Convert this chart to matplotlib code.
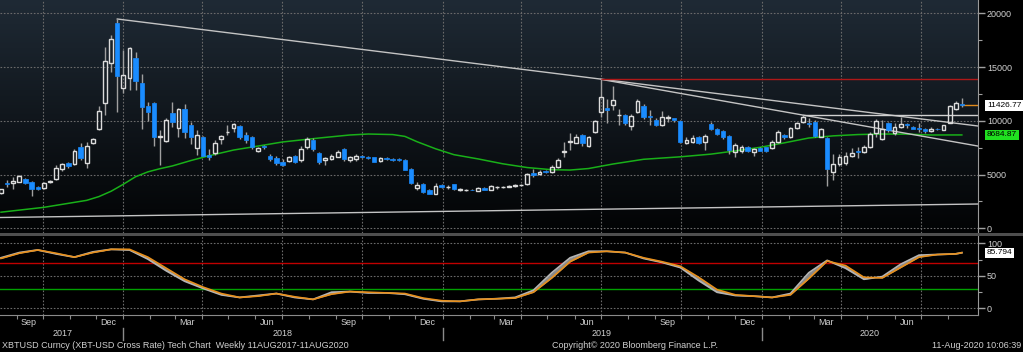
import numpy as np
import pandas as pd
import matplotlib
matplotlib.use('Agg')
import matplotlib.pyplot as plt
import matplotlib.dates as mdates
import matplotlib.transforms as mtrans
from matplotlib.lines import Line2D
from matplotlib.patches import Rectangle

plt.rcParams['font.family'] = ['Liberation Sans', 'DejaVu Sans']

# weekly candles, XBTUSD, Aug 2017 - Aug 2020
weeks = pd.date_range('2017-08-14', periods=158, freq='7D')

opens = [3280, 4180, 4190, 4340, 4590, 4300, 3800, 3720, 4300, 4560,
         5520, 6050, 5980, 7530, 6050, 7960, 9270, 11630, 15400, 19070,
         13020, 13950, 15810, 13490, 11400, 11630, 8500, 8160, 10750, 9300,
         11090, 9610, 7440, 8520, 6820, 6980, 8280, 8950, 9300, 9510,
         8650, 8520, 7220, 7650, 6750, 6540, 6200, 6290, 6750, 6350,
         7530, 8210, 7030, 6350, 6420, 6660, 7350, 6350, 6470, 6720,
         6600, 6600, 6290, 6510, 6420, 6450, 6350, 5520, 3720, 4120,
         3560, 3160, 4000, 3830, 4120, 3560, 3540, 3600, 3500, 3720,
         3560, 3800, 3820, 3880, 3940, 3990, 4090, 5120, 5080, 5300,
         5210, 5670, 7080, 8050, 7960, 8710, 7650, 8990, 10850, 11160,
         11440, 10500, 10540, 9510, 10850, 11380, 10450, 10070, 9610, 10250,
         10230, 9980, 7960, 8060, 8460, 8060, 9700, 9210, 9040, 8590,
         7130, 7220, 7530, 7130, 7440, 7530, 7440, 8060, 8680, 8520,
         9300, 9920, 9820, 9920, 8520, 8370, 5270, 5980, 6050, 6750,
         7220, 7130, 7590, 8840, 8310, 9820, 8900, 9450, 9700, 9390,
         9330, 9270, 9050, 9260, 9140, 9820, 11100, 11560]
highs = [3700, 4490, 4800, 4980, 4700, 4400, 3900, 4300, 4450, 5890,
         6100, 6200, 7400, 7900, 8060, 8370, 11380, 16900, 18000, 19470,
         16590, 16900, 16400, 14350, 11720, 11720, 9150, 10230, 11780, 11160,
         11600, 9900, 9100, 8600, 7400, 8260, 8680, 9650, 9800, 9610,
         8990, 8580, 7550, 7750, 6940, 6730, 6420, 6750, 6850, 7650,
         8500, 8400, 7130, 6650, 6900, 7300, 7450, 6700, 6880, 6800,
         6700, 6650, 6630, 6600, 6500, 6550, 6450, 5600, 4300, 4250,
         3620, 4200, 4120, 4000, 4150, 3720, 3620, 3650, 3800, 3800,
         4050, 3950, 3950, 4000, 4100, 4150, 5120, 5520, 5400, 5450,
         5900, 6560, 8030, 8880, 8770, 8780, 8580, 10080, 13860, 12000,
         13240, 11100, 10630, 10630, 12000, 11600, 11000, 10250, 10910, 10540,
         10300, 10070, 8500, 8700, 8550, 8800, 9900, 9300, 9150, 8680,
         7900, 7750, 7650, 7500, 7600, 7600, 8200, 9100, 8800, 9400,
         9900, 10500, 10230, 10070, 9300, 8450, 6910, 6910, 7130, 7440,
         7530, 7750, 8950, 10140, 10070, 9920, 9770, 10380, 9820, 9550,
         9800, 9350, 9450, 9350, 9650, 11470, 11870, 12090]
lows = [3200, 3870, 3630, 4300, 4150, 3000, 3550, 3650, 4200, 4500,
        5300, 5600, 5900, 6400, 5640, 7870, 9150, 10540, 14570, 10850,
        12620, 12900, 12870, 9220, 9980, 7700, 5890, 8060, 9450, 8520,
        8400, 7800, 6800, 6700, 6350, 6820, 7860, 8680, 8990, 8280,
        7960, 7340, 7130, 7340, 6240, 5890, 5800, 6200, 6050, 6200,
        7340, 7230, 5990, 5900, 6350, 6600, 6280, 6200, 6280, 6500,
        6450, 6150, 6200, 6400, 6300, 6250, 5400, 4100, 3600, 3300,
        3150, 3150, 3750, 3700, 3550, 3500, 3480, 3520, 3450, 3550,
        3520, 3700, 3750, 3800, 3880, 3950, 4060, 4810, 4960, 5150,
        5120, 5580, 6630, 7320, 7900, 7650, 7560, 8900, 10390, 9770,
        11000, 9600, 9580, 9140, 10700, 10200, 9610, 9520, 9520, 9920,
        9900, 7900, 7800, 7900, 7800, 7300, 9100, 8650, 8300, 6910,
        6600, 6980, 7100, 6700, 7150, 7100, 7350, 7950, 8300, 8400,
        9200, 9800, 9450, 8520, 8450, 3930, 4490, 5800, 5890, 6660,
        6510, 6980, 7500, 8460, 8210, 8990, 8680, 9300, 9300, 9200,
        9000, 8900, 8950, 9150, 9100, 9770, 11000, 11310]
closes = [3650, 4100, 4400, 4900, 4250, 3650, 3650, 4190, 4380, 5580,
          5980, 5830, 7200, 6550, 7700, 8280, 10880, 15590, 17580, 14200,
          14260, 16740, 13700, 11310, 10850, 8520, 8600, 10070, 9890, 11060,
          8990, 8520, 8680, 6750, 6660, 7960, 8590, 9000, 9670, 8460,
          8210, 7530, 7440, 7530, 6450, 6050, 5890, 6600, 6200, 7350,
          8280, 7350, 6140, 6570, 6730, 7100, 6420, 6640, 6750, 6600,
          6510, 6200, 6510, 6420, 6330, 6350, 5420, 4240, 4030, 3400,
          3190, 3960, 3870, 3870, 3630, 3680, 3570, 3540, 3720, 3580,
          3960, 3870, 3880, 3940, 4030, 4070, 5020, 5000, 5270, 5200,
          5740, 6350, 7180, 8150, 8520, 7900, 8460, 9980, 12240, 11000,
          11930, 10580, 9770, 10450, 11810, 10390, 10330, 9610, 10320, 10320,
          10070, 8060, 8210, 8370, 7900, 8590, 9210, 8770, 8460, 7290,
          7750, 7530, 7220, 7350, 7220, 7220, 8060, 8990, 8460, 9300,
          9770, 10390, 9700, 8590, 9210, 5490, 5980, 6660, 6730, 6980,
          7100, 7530, 8770, 10010, 9240, 9140, 9390, 9700, 9640, 9240,
          9270, 9080, 9240, 9200, 9580, 11380, 11630, 11426.77]

# moving average (green), read at some weeks
ma_idx = [0, 7, 14, 16, 18, 20, 22, 24, 26, 28, 31, 34, 38, 42, 46, 52, 57, 60,
          64, 66, 68, 71, 74, 78, 82, 86, 90, 93, 96, 100, 105, 111, 116, 120,
          124, 128, 132, 136, 140, 144, 148, 152, 157]
ma_val = [1500, 1950, 2600, 2950, 3450, 4100, 4800, 5250, 5550, 5800, 6300, 6750,
          7280, 7650, 8030, 8400, 8680, 8770, 8720, 8550, 8050, 7400, 6850, 6450,
          6000, 5650, 5450, 5420, 5560, 5980, 6420, 6650, 6900, 7200, 7530, 7950,
          8400, 8600, 8720, 8770, 8760, 8680, 8684.87]

# oscillator (lower panel)
osc_idx = [0, 3, 6, 9, 12, 15, 18, 21, 24, 27, 30, 33, 36, 39, 42, 45, 48, 51,
           54, 57, 60, 63, 66, 69, 72, 75, 78, 81, 84, 87, 90, 93, 96, 99, 102,
           105, 108, 111, 114, 117, 120, 123, 126, 129, 132, 135, 138, 141, 144,
           147, 150, 153, 156, 157]
osc_fast = [78, 86, 90, 84, 79, 87, 91, 90, 76, 58, 42, 31, 21, 17, 20, 23, 17, 14,
            25, 26, 24, 24, 22, 15, 11, 11, 14, 15, 17, 28, 55, 78, 88, 88, 86,
            77, 71, 63, 43, 25, 20, 19, 17, 23, 55, 74, 62, 45, 49, 68, 82, 83, 84,
            85.794]
osc_slow = [77, 85, 90, 85, 79, 86, 91, 91, 79, 62, 45, 33, 23, 17, 19, 23, 18, 14,
            22, 26, 25, 24, 23, 16, 12, 11, 14, 15, 16, 25, 47, 72, 86, 88, 86,
            78, 72, 65, 48, 29, 21, 19, 17, 21, 46, 73, 66, 48, 47, 63, 79, 83, 84,
            85.794]

# trend lines: start week, start value, value at right edge
peak_line = (19, 19470, 9516)
jun19_line = (98, 13860, 7650)
support_line = (1005, 2260)
red_level = (98, 13860)
feb20_level = (131, 10530)

price_ticks = [0, 5000, 10000, 15000, 20000]
osc_ticks = [0, 50, 100]

BG = 'black'
GRID = '#6a6a6a'
TXT = '#d0d0d0'
BLUE = '#1a8cff'
FS = 6.5

W, H = 1023, 352
fig = plt.figure(figsize=(W / 100, H / 100), dpi=100, facecolor=BG)
ax = fig.add_axes([0, 1 - 233 / H, 978 / W, 233 / H])
ax2 = fig.add_axes([0, 1 - 315 / H, 978 / W, 79 / H])

x = mdates.date2num(weeks)
t0 = mdates.date2num(pd.Timestamp('2017-08-14'))
xlim = (t0 - 1.14, t0 + 1117.5)

for a in (ax, ax2):
    a.set_facecolor(BG)
    a.set_xlim(*xlim)
    for s in ('top', 'left', 'bottom'):
        a.spines[s].set_visible(False)
    a.spines['right'].set_color('#9a9a9a')
    a.yaxis.tick_right()

# gradient background of the price panel
grad = np.linspace(0, 1, 256).reshape(-1, 1)
cmap = matplotlib.colors.LinearSegmentedColormap.from_list('bb', ['#1f2a35', '#020304'])
ax.imshow(grad, cmap=cmap, aspect='auto', extent=[0, 1, 0, 1],
          transform=ax.transAxes, zorder=0)

ax.set_ylim(-437, 21237)
ax2.set_ylim(-10, 111.5)

# grid
quarters = pd.date_range('2017-10-01', '2020-08-01', freq='QS')
for a in (ax, ax2):
    for q in quarters:
        a.axvline(mdates.date2num(q), color=GRID, lw=0.8, ls=(0, (1.5, 1.5)), zorder=1)
for v in price_ticks:
    ax.axhline(v, color=GRID, lw=0.8, ls=(0, (1.5, 1.5)), zorder=1)
for v in osc_ticks:
    ax2.axhline(v, color=GRID, lw=0.8, ls=(0, (1.5, 1.5)), zorder=1)

# candles
o = np.array(opens); h = np.array(highs); l = np.array(lows); c = np.array(closes)
up = c >= o
top = np.maximum(o, c); bot = np.minimum(o, c)
ax.vlines(x, top, h, color='#a0a0a0', lw=1.0, zorder=3)
ax.vlines(x, l, bot, color='#a0a0a0', lw=1.0, zorder=3)
body = np.maximum(top - bot, 40)
ax.bar(x[~up], body[~up], bottom=bot[~up], width=5.0, color=BLUE,
       edgecolor=BLUE, lw=0.5, zorder=4)
ax.bar(x[up], body[up], bottom=bot[up], width=4.4, facecolor='none',
       edgecolor='#dcdcdc', lw=1.0, zorder=4)

# moving average
ax.plot(mdates.date2num(weeks[ma_idx]), ma_val, color='#19b019', lw=1.1, zorder=2)

# trend lines
xr = xlim[1]
ax.plot([x[peak_line[0]], xr], peak_line[1:], color='#c4c4c4', lw=1.0, zorder=2)
ax.plot([x[jun19_line[0]], xr], jun19_line[1:], color='#c4c4c4', lw=1.0, zorder=2)
ax.plot([xlim[0], xr], support_line, color='#c4c4c4', lw=1.0, zorder=2)
ax.plot([x[red_level[0]], xr], [red_level[1]] * 2, color='#b01818', lw=1.0, zorder=2)
ax.plot([x[feb20_level[0]], xr], [feb20_level[1]] * 2, color='#d0d0d0', lw=1.0, zorder=2)
ax.plot([x[-1], xr], [closes[-1]] * 2, color='#e08a1c', lw=1.0, zorder=2)

# right axis, price
ax.set_yticks(price_ticks)
ax.set_yticklabels([str(v) for v in price_ticks])
ax.set_yticks([2500, 7500, 12500, 17500], minor=True)
ax.tick_params(axis='y', which='major', colors='#a0a0a0', labelcolor=TXT,
               labelsize=FS, length=5, width=1, pad=1.5)
ax.tick_params(axis='y', which='minor', colors='#a0a0a0', length=3, width=0.8)
ax.set_xticks([])

bt = mtrans.blended_transform_factory(ax.transAxes, ax.transData)
box_x = 987 / 978
ax.text(box_x, closes[-1], '11426.77', transform=bt, ha='left', va='center',
        fontsize=6.0, color='black',
        bbox=dict(boxstyle='square,pad=0.2', fc='white', ec='none'))
ax.text(box_x, ma_val[-1], '8684.87', transform=bt, ha='left', va='center',
        fontsize=6.0, color='black',
        bbox=dict(boxstyle='square,pad=0.2', fc='#20e020', ec='none'))

# oscillator panel
ox = mdates.date2num(weeks[osc_idx])
ax2.axhline(70, color='#c00000', lw=1.0, zorder=2)
ax2.axhline(30, color='#00a000', lw=1.0, zorder=2)
ax2.fill_between(ox, osc_fast, osc_slow, color='#8a8a8a', lw=0, zorder=3)
ax2.plot(ox, osc_fast, color='#b4b4b4', lw=1.3, zorder=3)
ax2.plot(ox, osc_slow, color='#e8901c', lw=1.2, zorder=4)

ax2.set_yticks(osc_ticks)
ax2.set_yticklabels([str(v) for v in osc_ticks])
ax2.set_yticks([25, 75], minor=True)
ax2.tick_params(axis='y', which='major', colors='#a0a0a0', labelcolor=TXT,
                labelsize=FS, length=5, width=1, pad=1.5)
ax2.tick_params(axis='y', which='minor', colors='#a0a0a0', length=3, width=0.8)
bt2 = mtrans.blended_transform_factory(ax2.transAxes, ax2.transData)
ax2.text(box_x, osc_fast[-1], '85.794', transform=bt2, ha='left', va='center',
         fontsize=6.0, color='black',
         bbox=dict(boxstyle='square,pad=0.2', fc='white', ec='none'))

# x axis: monthly ticks, quarter month names, years
ax2.spines['bottom'].set_visible(True)
ax2.spines['bottom'].set_color('#8a8a8a')
months = pd.date_range('2017-09-01', '2020-08-01', freq='MS')
ax2.set_xticks(mdates.date2num(months))
ax2.set_xticklabels([])
labm = [d + pd.Timedelta(days=14) for d in months if d.month in (3, 6, 9, 12)]
ax2.set_xticks(mdates.date2num(labm), minor=True)
ax2.set_xticklabels([d.strftime('%b') for d in labm], minor=True)
ax2.tick_params(axis='x', which='major', colors='#8a8a8a', length=3, width=0.8)
ax2.tick_params(axis='x', which='minor', length=0, labelsize=FS,
                labelcolor=TXT, pad=2)

bx = mtrans.blended_transform_factory(ax2.transData, fig.transFigure)
year_pos = [(pd.Timestamp('2017-08-14'), pd.Timestamp('2018-01-01'), '2017'),
            (pd.Timestamp('2018-01-01'), pd.Timestamp('2019-01-01'), '2018'),
            (pd.Timestamp('2019-01-01'), pd.Timestamp('2020-01-01'), '2019'),
            (pd.Timestamp('2020-01-01'), pd.Timestamp('2020-09-04'), '2020')]
for a0, a1, s in year_pos:
    xm = (mdates.date2num(a0) + mdates.date2num(a1)) / 2
    fig.text(xm, 1 - 334 / H, s, transform=bx, ha='center', va='center',
             fontsize=FS, color=TXT)
for s in ('2018-01-01', '2019-01-01', '2020-01-01'):
    xs = mdates.date2num(pd.Timestamp(s))
    fig.add_artist(Line2D([xs, xs], [1 - 328 / H, 1 - 340 / H], transform=bx,
                          color='#8a8a8a', lw=1))

# separator bar between panels
fig.add_artist(Rectangle((0, 1 - 236 / H), 1, 3 / H, transform=fig.transFigure,
                         color='#4e4e4e', lw=0))

fig.text(2 / W, 1 - 346 / H,
         'XBTUSD Curncy (XBT-USD Cross Rate) Tech Chart  Weekly 11AUG2017-11AUG2020',
         ha='left', va='center', fontsize=6.5, color=TXT)
fig.text(635 / W, 1 - 346 / H, 'Copyright\u00a9 2020 Bloomberg Finance L.P.',
         ha='center', va='center', fontsize=6.5, color=TXT)
fig.text(1 - 2 / W, 1 - 346 / H, '11-Aug-2020 10:06:39',
         ha='right', va='center', fontsize=6.5, color=TXT)

fig.savefig('out.png', dpi=100, facecolor=BG)
